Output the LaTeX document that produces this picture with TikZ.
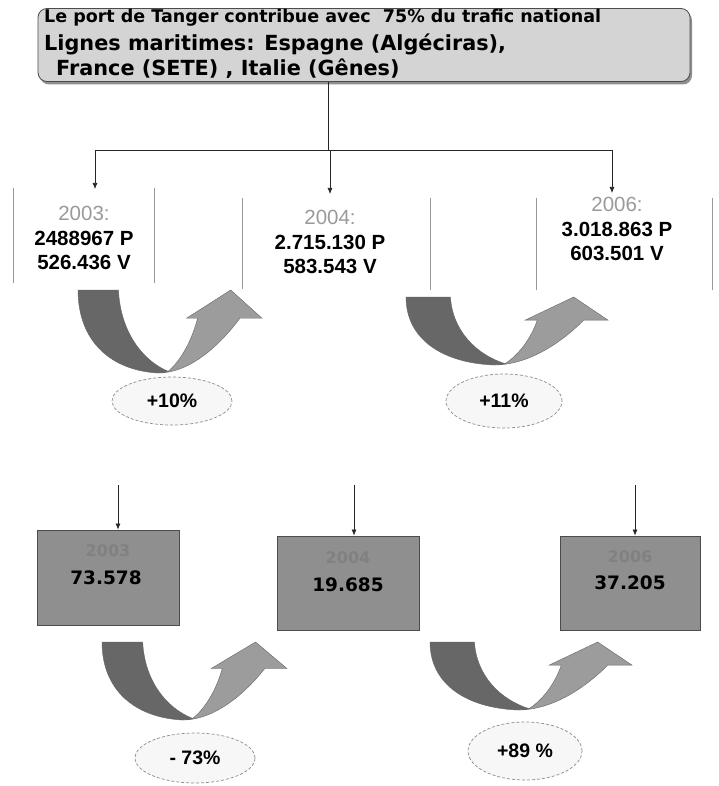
\documentclass[tikz,border=0pt]{standalone}
\usepackage{fontspec}
\setmainfont{Liberation Sans}
\newfontfamily\verd{DejaVu Sans}
\usetikzlibrary{shapes.geometric,arrows.meta,shadows}
\definecolor{darkarrow}{HTML}{676767}
\definecolor{lightarrow}{HTML}{9C9C9C}
\definecolor{topfill}{HTML}{D4D4D4}
\definecolor{boxfill}{HTML}{8F8F8F}
\definecolor{yeargray}{HTML}{9A9A9A}
\definecolor{boxyeargray}{HTML}{818181}
\tikzset{
  conn/.style={draw=black!85, line width=0.7pt},
  arr/.style={conn, -{Latex[length=6pt,width=5pt]}},
  sep/.style={draw=black!40, line width=0.9pt},
  topbox/.style={draw=black!70, line width=0.8pt, fill=topfill, rounded corners=9pt,
    minimum width=652pt, minimum height=73pt, inner sep=0pt,
    drop shadow={shadow xshift=2pt, shadow yshift=-3pt, fill=black!55, opacity=0.8}},
  lineone/.style={anchor=west, inner sep=0pt, font=\verd\fontsize{17.5}{18}\selectfont\bfseries},
  linetwo/.style={anchor=west, inner sep=0pt, font=\verd\fontsize{20.8}{22}\selectfont\bfseries},
  yeartext/.style={align=center, inner sep=0pt, font=\fontsize{20.5}{24.5}\selectfont},
  valbox/.style={draw=black!70, line width=0.8pt, fill=boxfill, inner sep=0pt},
  boxyear/.style={text=boxyeargray, inner sep=0pt, font=\verd\fontsize{16}{18}\selectfont\bfseries},
  boxnum/.style={inner sep=0pt, font=\verd\fontsize{18.5}{20}\selectfont\bfseries},
  pct/.style={ellipse, draw=black!45, line width=0.7pt, densely dashed, fill=black!3,
    inner sep=0pt, font=\fontsize{19.5}{20}\selectfont\bfseries},
  uarrow/.pic={
    \filldraw[fill=darkarrow, draw=black!60, line width=0.4pt]
      (0,0) -- (0.22,0) .. controls (0.23,0.5) and (0.35,0.85) .. (0.49,0.98)
      -- (0.435,1) .. controls (0.18,0.97) and (0,0.62) .. (0,0) -- cycle;
    \filldraw[fill=lightarrow, draw=black!60, line width=0.4pt]
      (0.435,1) .. controls (0.63,1.0) and (0.80,0.58) .. (0.88,0.34)
      -- (1,0.34) -- (0.83,0) -- (0.59,0.34) -- (0.65,0.34)
      .. controls (0.62,0.6) and (0.56,0.85) .. (0.49,0.98) -- cycle;
  }
}
\begin{document}
\begin{tikzpicture}[x=1pt,y=-1pt]
\useasboundingbox (0,0) rectangle (719,786);
\fill[white] (0,0) rectangle (719,786);

% top box
\node[topbox] (top) at (364,45) {};
\node[lineone] (l1) at (44,18) {Le port de Tanger contribue avec \ 75\% du trafic national};
\node[linetwo] (l2) at (44,44) {Lignes maritimes: Espagne (Algéciras),};
\node[linetwo] (l3) at (56,69) {France (SETE) , Italie (Gênes)};

% distribution connectors
\coordinate (j) at (328,150);
\coordinate (jl) at (95,150);
\coordinate (jr) at (612,150);
\coordinate (a1) at (95,189);
\coordinate (a2) at (330,194);
\coordinate (a3) at (612,193);
\draw[conn] (top.south -| j) -- (j);
\draw[conn] (jl) -- (jr);
\draw[arr] (jl) -- (a1);
\draw[arr] (j -| a2) -- (a2);
\draw[arr] (jr) -- (a3);

% top row values
\node[yeartext] (t1) at (84,238) {\textcolor{yeargray}{2003:}\\\textbf{2488967 P}\\\textbf{526.436 V}};
\node[yeartext] (t2) at (330,242) {\textcolor{yeargray}{2004:}\\\textbf{2.715.130 P}\\\textbf{583.543 V}};
\node[yeartext] (t3) at (617,229) {\textcolor{yeargray}{2006:}\\\textbf{3.018.863 P}\\\textbf{603.501 V}};

% separators
\draw[sep] (13,188) -- (13,283);
\draw[sep] (154,188) -- (154,283);
\draw[sep] (242,198) -- (242,289);
\draw[sep] (430,198) -- (430,290);
\draw[sep] (536,198) -- (536,290);
\draw[sep] (712,198) -- (712,290);

% curved arrows top
\pic[shift={(78,290)}, xscale=184, yscale=83] {uarrow};
\pic[shift={(406,297)}, xscale=202, yscale=68] {uarrow};

\node[pct, minimum width=120pt, minimum height=48pt] (e1) at (172,401) {+10\%};
\node[pct, minimum width=116pt, minimum height=54pt] (e2) at (504,401) {+11\%};

% bottom row
\node[valbox, minimum width=142pt, minimum height=95pt] (b1) at (108,577.5) {};
\node[valbox, minimum width=142pt, minimum height=94pt] (b2) at (348,583) {};
\node[valbox, minimum width=140pt, minimum height=94pt] (b3) at (630,583) {};

\node[boxyear] (y1) at (108,551) {2003};
\node[boxnum] (n1) at (106,578) {73.578};
\node[boxyear] (y2) at (348,558) {2004};
\node[boxnum] (n2) at (348,585) {19.685};
\node[boxyear] (y3) at (630,557) {2006};
\node[boxnum] (n3) at (630,583) {37.205};

\coordinate (s1) at (118,485);
\coordinate (s2) at (354,485);
\coordinate (s3) at (635,485);
\draw[arr] (s1) -- (b1.north -| s1);
\draw[arr] (s2) -- (b2.north -| s2);
\draw[arr] (s3) -- (b3.north -| s3);

% curved arrows bottom
\pic[shift={(102,642)}, xscale=185, yscale=78] {uarrow};
\pic[shift={(430,642)}, xscale=202, yscale=68] {uarrow};

\node[pct, minimum width=120pt, minimum height=50pt] (e3) at (195,758) {- 73\%};
\node[pct, minimum width=114pt, minimum height=58pt] (e4) at (525,751) {+89 \%};
\end{tikzpicture}
\end{document}
